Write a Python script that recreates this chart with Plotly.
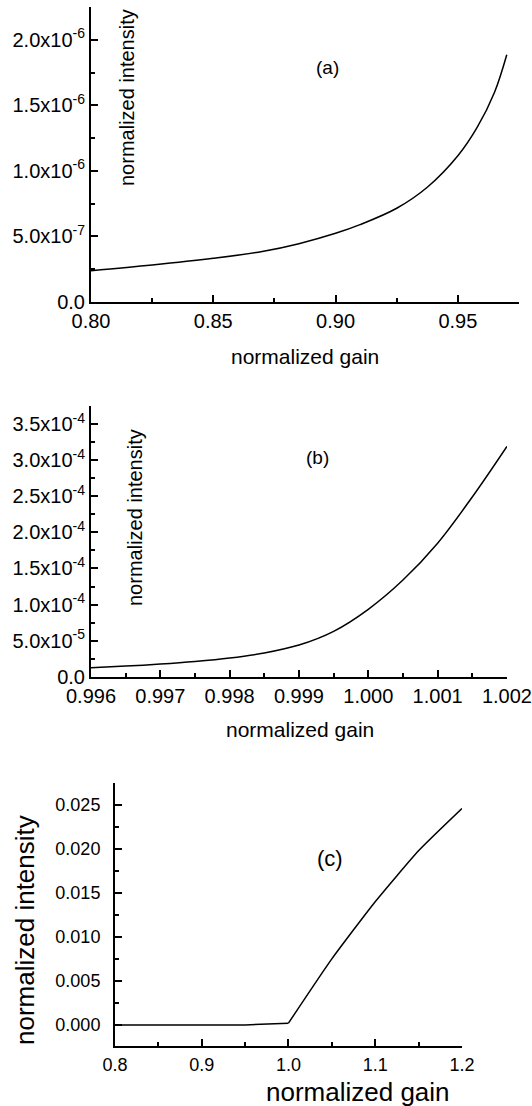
import plotly.graph_objects as go

# ---------------- data ----------------
# panel (a)
gain_a = [0.800, 0.825, 0.850, 0.870, 0.885, 0.900, 0.910, 0.925, 0.9375, 0.950, 0.958, 0.965, 0.970]
intensity_a = [0.239e-6, 0.282e-6, 0.333e-6, 0.385e-6, 0.445e-6, 0.524e-6, 0.590e-6, 0.715e-6,
               0.875e-6, 1.115e-6, 1.335e-6, 1.600e-6, 1.886e-6]
ytick_vals_a = [0.0, 5.0e-7, 1.0e-6, 1.5e-6, 2.0e-6]
ytick_text_a = ["0.0", "5.0x10<sup>-7</sup>", "1.0x10<sup>-6</sup>", "1.5x10<sup>-6</sup>", "2.0x10<sup>-6</sup>"]

# panel (b)
gain_b = [0.996, 0.9965, 0.997, 0.9975, 0.998, 0.9985, 0.999, 0.9995, 1.000, 1.0005, 1.001, 1.0015, 1.002]
intensity_b = [1.26e-5, 1.48e-5, 1.76e-5, 2.12e-5, 2.60e-5, 3.30e-5, 4.40e-5, 6.30e-5, 9.35e-5,
               1.34e-4, 1.85e-4, 2.49e-4, 3.19e-4]
ytick_vals_b = [0.0, 5.0e-5, 1.0e-4, 1.5e-4, 2.0e-4, 2.5e-4, 3.0e-4, 3.5e-4]
ytick_text_b = ["0.0", "5.0x10<sup>-5</sup>", "1.0x10<sup>-4</sup>", "1.5x10<sup>-4</sup>",
                "2.0x10<sup>-4</sup>", "2.5x10<sup>-4</sup>", "3.0x10<sup>-4</sup>", "3.5x10<sup>-4</sup>"]
xtick_vals_b = [0.996, 0.997, 0.998, 0.999, 1.000, 1.001, 1.002]

# panel (c)
gain_c = [0.80, 0.90, 0.95, 1.00, 1.05, 1.10, 1.15, 1.20]
intensity_c = [0.0, 0.0, 0.0, 0.0002, 0.0075, 0.0140, 0.0198, 0.0246]
kink_c = 3  # index of threshold point (gain = 1.0)

x_title = "normalized gain"
y_title = "normalized intensity"
panel_labels = ["(a)", "(b)", "(c)"]

FONT = "Liberation Sans, Arial, Helvetica, sans-serif"
W, H = 532, 1106


def px(x):
    return min(max(x / W, 0.0), 1.0)


def py(y):
    return min(max(1 - y / H, 0.0), 1.0)


fig = go.Figure()
line_style = dict(color="black", width=1.5)
fig.add_trace(go.Scatter(x=gain_a, y=intensity_a, mode="lines", line=dict(shape="spline", **line_style),
                         xaxis="x", yaxis="y"))
fig.add_trace(go.Scatter(x=gain_b, y=intensity_b, mode="lines", line=dict(shape="spline", **line_style),
                         xaxis="x2", yaxis="y2"))
fig.add_trace(go.Scatter(x=gain_c[:kink_c + 1], y=intensity_c[:kink_c + 1], mode="lines",
                         line=dict(shape="linear", **line_style), xaxis="x3", yaxis="y3"))
fig.add_trace(go.Scatter(x=gain_c[kink_c:], y=intensity_c[kink_c:], mode="lines",
                         line=dict(shape="spline", smoothing=0.5, **line_style), xaxis="x3", yaxis="y3"))


def ax(domain, rng, anchor, fsize, minor_dtick, minor_tick0, standoff=0, **kw):
    d = dict(domain=domain, range=rng, anchor=anchor, showline=True, linewidth=2, linecolor="black",
             ticks="inside", ticklen=7, tickwidth=1.5, tickcolor="black", showgrid=False, zeroline=False,
             automargin=False,
             tickfont=dict(family=FONT, size=fsize, color="black"), ticklabelstandoff=standoff,
             minor=dict(dtick=minor_dtick, tick0=minor_tick0, ticks="inside", ticklen=4, tickwidth=1.5,
                        tickcolor="black", showgrid=False))
    d.update(kw)
    return d


fig.update_layout(
    width=W, height=H, margin=dict(l=0, r=0, t=0, b=0, pad=0, autoexpand=False),
    paper_bgcolor="white", plot_bgcolor="white", showlegend=False,
    font=dict(family=FONT, color="black"),
    xaxis=ax([px(91), px(519)], [0.8, 0.975], "y", 20, 0.025, 0.8, tick0=0.8, dtick=0.05, tickformat=".2f"),
    yaxis=ax([py(302), py(7)], [0, 2.25e-6], "x", 20, 2.5e-7, 0, tickmode="array",
             tickvals=ytick_vals_a, ticktext=ytick_text_a),
    xaxis2=ax([px(91), px(507)], [0.996, 1.002001], "y2", 20, 0.0005, 0.996, tickmode="array",
              tickvals=xtick_vals_b, tickformat=".3f"),
    yaxis2=ax([py(676.8), py(406)], [0, 3.75e-4], "x2", 20, 2.5e-5, 0, tickmode="array",
              tickvals=ytick_vals_b, ticktext=ytick_text_b),
    xaxis3=ax([px(115), px(462)], [0.8, 1.2001], "y3", 18, 0.05, 0.8, standoff=1, tick0=0.8, dtick=0.1,
              tickformat=".1f"),
    yaxis3=ax([py(1046), py(783)], [-0.0024, 0.0275], "x3", 18, 0.0025, 0, standoff=9, tick0=0,
              dtick=0.005, tickformat=".3f"),
)

ann = []
# panel (a)
ann.append(dict(x=px(127), y=py(98), text=y_title, textangle=-90, font=dict(size=20)))
ann.append(dict(x=px(327), y=py(68), text=panel_labels[0], font=dict(size=19)))
ann.append(dict(x=px(305), y=py(357), text=x_title, font=dict(size=21)))
# panel (b)
ann.append(dict(x=px(135), y=py(518), text=y_title, textangle=-90, font=dict(size=20)))
ann.append(dict(x=px(317), y=py(458), text=panel_labels[1], font=dict(size=19)))
ann.append(dict(x=px(300), y=py(729), text=x_title, font=dict(size=21)))
# panel (c)
ann.append(dict(x=px(25), y=py(930), text=y_title, textangle=-90, font=dict(size=26)))
ann.append(dict(x=px(330), y=py(858), text=panel_labels[2], font=dict(size=22)))
ann.append(dict(x=px(358), y=py(1092), text=x_title, font=dict(size=26)))
for a in ann:
    a.update(xref="paper", yref="paper", showarrow=False, xanchor="center", yanchor="middle")
    a["font"].update(family=FONT, color="black")
fig.update_layout(annotations=ann)

# remove the default 8px page margin so the figure fills the window exactly
fig.write_html("out.html", config={"displayModeBar": False},
               post_script="document.body.style.margin='0';document.body.style.overflow='hidden';")
